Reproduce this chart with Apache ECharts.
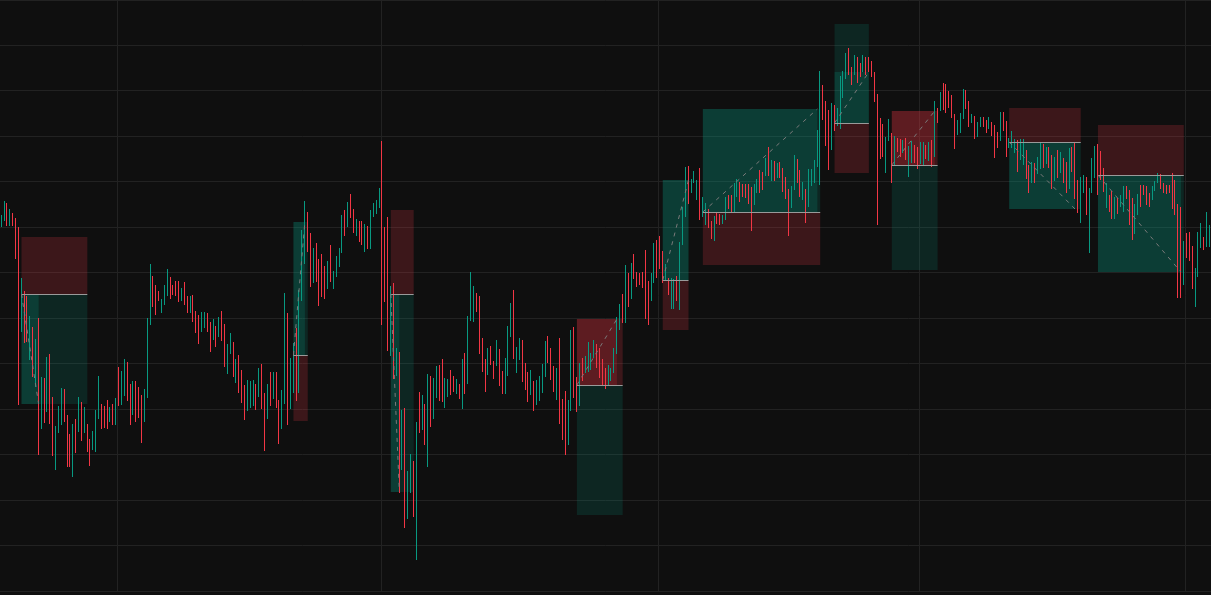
<!DOCTYPE html>
<html>
<head>
<meta charset="utf-8">
<script src="https://cdn.jsdelivr.net/npm/echarts@6/dist/echarts.min.js"></script>
<style>
  html, body { margin: 0; padding: 0; background: #0f0f0f; }
  #chart { width: 1211px; height: 595px; }
</style>
</head>
<body>
<div id="chart"></div>
<script>
// candles as [open, close] (wicks sit inside the bodies at this zoom), or [open, close, low, high]
var candles = [
  [373,385],[379,399],[397,374],[374,391],[387,374],[382,341],[373,195],[268,322],[309,257],[304,258],
  [240,284],[273,223],[213,261],[282,145],[171,223],[222,177],[188,243],[246,176],[203,144],[130,174],
  [167,194],[175,212],[211,178],[185,133],[166,133],[123,176],[181,147],[168,203],[198,159],[167,193],
  [176,148],[161,134],[150,169],[148,190],[181,224],[196,171],[194,172],[200,171],[178,193],[196,175],
  [175,202],[233,194],[195,229],[204,241],[238,199],[216,175],[185,219],[219,178],[213,182],[205,157],
  [178,211],[202,282],[275,336],[324,293],[315,285],[309,299],[287,301],[295,315],[304,331],[323,301],
  [315,305],[319,304],[319,298],[299,312],[318,295],[304,287],[287,304],[305,278],[289,267],[285,256],
  [268,288],[272,288],[287,268],[278,248],[260,281],[274,253],[263,283],[289,259],[276,233],[226,256],
  [246,267],[258,223],[217,241],[245,207],[230,197],[215,180],[189,220],[192,219],[194,220],[216,190],
  [203,232],[236,191],[207,149],[181,216],[228,194],[201,228],[228,192],[200,156],[171,210],[196,307],
  [287,175],[191,242],[207,257],[272,199],[207,310],[299,370],[336,399],[388,348],[367,313],[317,352],
  [357,318],[341,294],[346,303],[334,301],[311,339],[355,318],[311,329],[323,344],[333,352],[347,385],
  [390,364],[373,398],[406,382],[391,367],[364,381],[379,358],[379,355],[348,376],[374,351],[351,390],
  [383,397],[386,400],[392,412],[410,275,275,459],[373,298],[383,249],[244,314],[317,221],[224,252],[248,107],
  [130,190],[192,72],[81,129],[107,146],[139,83],[60,178,40,178],[208,167],[170,205],[196,155],[133,226],
  [224,173],[181,222],[202,234],[235,199],[241,198],[192,222],[203,221],[230,205],[224,208],[206,221],
  [216,201],[191,241],[247,206],[216,284],[279,328],[278,314],[307,288],[304,246],[262,228],[241,208],
  [225,252],[254,235],[239,221],[234,260],[251,214],[229,206],[206,242],[224,274],[263,297],[310,241],
  [227,253],[240,262],[260,218],[237,210],[228,198],[205,230],[219,189],[195,220],[199,224],[207,236],
  [223,259],[264,237],[252,220],[234,208],[200,232],[262,176],[201,160],[209,145],[155,200],[189,270],
  [273,202],[223,188],[194,237],[242,219],[227,244],[228,258],[230,247],[242,260],[256,232],[252,222],
  [241,215],[232,211],[215,235],[219,232],[227,252],[246,283],[270,296],[306,277],[277,335],[327,293],
  [301,337],[346,321],[328,313],[327,315],[328,312],[350,281],[319,275],[299,327],[317,357],[360,322],
  [364,331],[349,317],[320,336],[322,305],[291,322],[291,321],[324,299],[290,358],[355,393],[383,433],
  [434,396],[407,421],[417,429],[400,420],[432,380],[383,403],[375,397],[391,372],[379,361],[359,384],
  [388,376],[386,375],[376,385],[380,403],[405,391],[405,388],[388,417],[403,421],[418,398],[416,403],
  [416,402],[416,396],[413,369],[395,416],[407,421],[430,407],[428,410],[424,442],[453,424],[419,440],
  [439,419],[422,437],[438,422],[432,408],[423,401],[411,364],[392,414],[410,445],[441,417],[430,403],
  [400,418],[411,377],[393,431],[414,431],[417,440],[433,470],[415,529],[515,480],[499,454],[490,430],
  [450,497],[495,469],[474,492],[471,524],[502,529],[521,547],[552,525],[533,515],[525,545],[543,517],
  [537,523],[528,545],[543,525],[543,528],[539,523],[528,498],[506,450,375,506],[482,441],[476,443],[427,463],
  [459,481],[467,417],[435,464],[462,448],[461,443],[447,460],[462,440],[423,454],[437,459],[455,437],
  [453,431],[436,458],[435,458],[455,441],[439,458],[460,433],[443,499],[492,477],[489,508],[517,490],
  [516,487],[509,492],[505,482],[486,451],[465,480],[467,487],[481,511],[510,491],[499,473],[477,486],
  [484,461],[463,478],[473,483],[483,473],[480,467],[471,483],[478,464],[475,442],[468,452],[459,488],
  [488,469],[479,443],[452,462],[452,469],[447,461],[460,428],[440,461],[435,461],[450,421],[435,407],
  [417,438],[437,417],[426,443],[431,457],[456,432],[436,453],[453,432],[445,411],[419,443],[450,422],
  [427,448],[442,417],[438,407],[411,452],[453,428],[457,401],[420,387],[377,423],[407,425],[423,385],
  [347,412],[407,442],[422,454],[456,405],[449,420],[432,408],[392,417],[405,388],[409,381],[381,403],
  [402,386],[393,405],[388,414],[414,401],[410,375],[402,360],[366,396],[385,406],[415,393],[415,405],
  [414,395],[407,393],[400,414],[409,419],[417,427],[426,411],[417,407],[415,406],[415,407],[427,391],
  [420,385],[396,302],[393,302],[315,359],[367,342],[368,339],[354,311],[293,332],[323,368],[352,377],
  [363,350],[353,388],[353,375]
];

// positions: [startIdx, endIdx, exitIdx, entry, stop, target, exitPrice]
var positions = [
  [7, 30, 13, 306, 363, 196, 196],
  [102, 107, 106, 245, 179, 378, 378],
  [136, 144, 139, 306, 390, 108, 108],
  [201, 217, 215, 215, 281, 85, 281],
  [231, 240, 240, 320, 270, 420, 420],
  [245, 286, 285, 388, 335, 491, 491],
  [291, 303, 303, 477, 427, 576, 528],
  [311, 327, 326, 435, 489, 330, 489],
  [352, 377, 375, 458, 492, 391, 391],
  [383, 413, 412, 425, 475, 328, 328]
];

var gridCols = [41, 133, 230, 321, 414];

var cats = candles.map(function(c, i){ return i; });
var ohlc = candles.map(function(c){
  if (c.length == 4) return c;
  return [c[0], c[1], Math.min(c[0], c[1]), Math.max(c[0], c[1])];
});

var areas = [], lines = [];
positions.forEach(function(p){
  var s = p[0], e = p[1], x = p[2], entry = p[3], stop = p[4], target = p[5], exitP = p[6];
  var RED = 'rgba(242,54,69,0.2)', GREEN = 'rgba(8,153,129,0.17)';
  areas.push([{xAxis: s, yAxis: entry, itemStyle: {color: RED}}, {xAxis: e, yAxis: stop}]);
  areas.push([{xAxis: s, yAxis: entry, itemStyle: {color: GREEN}}, {xAxis: e, yAxis: target}]);
  var win = (exitP - entry) * (target - entry) > 0;
  areas.push([{xAxis: s, yAxis: entry, itemStyle: {color: win ? 'rgba(8,153,129,0.2)' : 'rgba(242,54,69,0.18)'}}, {xAxis: x, yAxis: exitP}]);
  lines.push([{coord: [s, entry], lineStyle: {color: '#9a9a9a', type: 'solid', width: 1}}, {coord: [e, entry]}]);
  lines.push([{coord: [s, entry], lineStyle: {color: '#7a7a7a', type: [4, 5], width: 1}}, {coord: [x, exitP]}]);
});

var myChart = echarts.init(document.getElementById('chart'));
myChart.setOption({
  backgroundColor: '#0f0f0f',
  animation: false,
  grid: { left: 0, right: 0, top: 0, bottom: 4 },
  xAxis: {
    type: 'category',
    data: cats,
    boundaryGap: true,
    axisLine: { show: false },
    axisTick: { show: false },
    axisLabel: { show: false },
    splitLine: {
      show: true,
      interval: function(i){ return gridCols.indexOf(i) >= 0; },
      lineStyle: { color: '#222222', width: 1 }
    }
  },
  yAxis: {
    type: 'value',
    min: 9,
    max: 600,
    interval: 45.5,
    axisLine: { show: false },
    axisTick: { show: false },
    axisLabel: { show: false },
    splitLine: { lineStyle: { color: '#222222', width: 1 } }
  },
  series: [{
    type: 'candlestick',
    data: ohlc,
    barWidth: 1,
    itemStyle: {
      color: '#089981', color0: '#f23645',
      borderColor: '#089981', borderColor0: '#f23645',
      borderWidth: 1
    },
    markArea: { silent: true, data: areas },
    markLine: { silent: true, symbol: 'none', label: { show: false }, data: lines }
  }]
});
</script>
</body>
</html>
